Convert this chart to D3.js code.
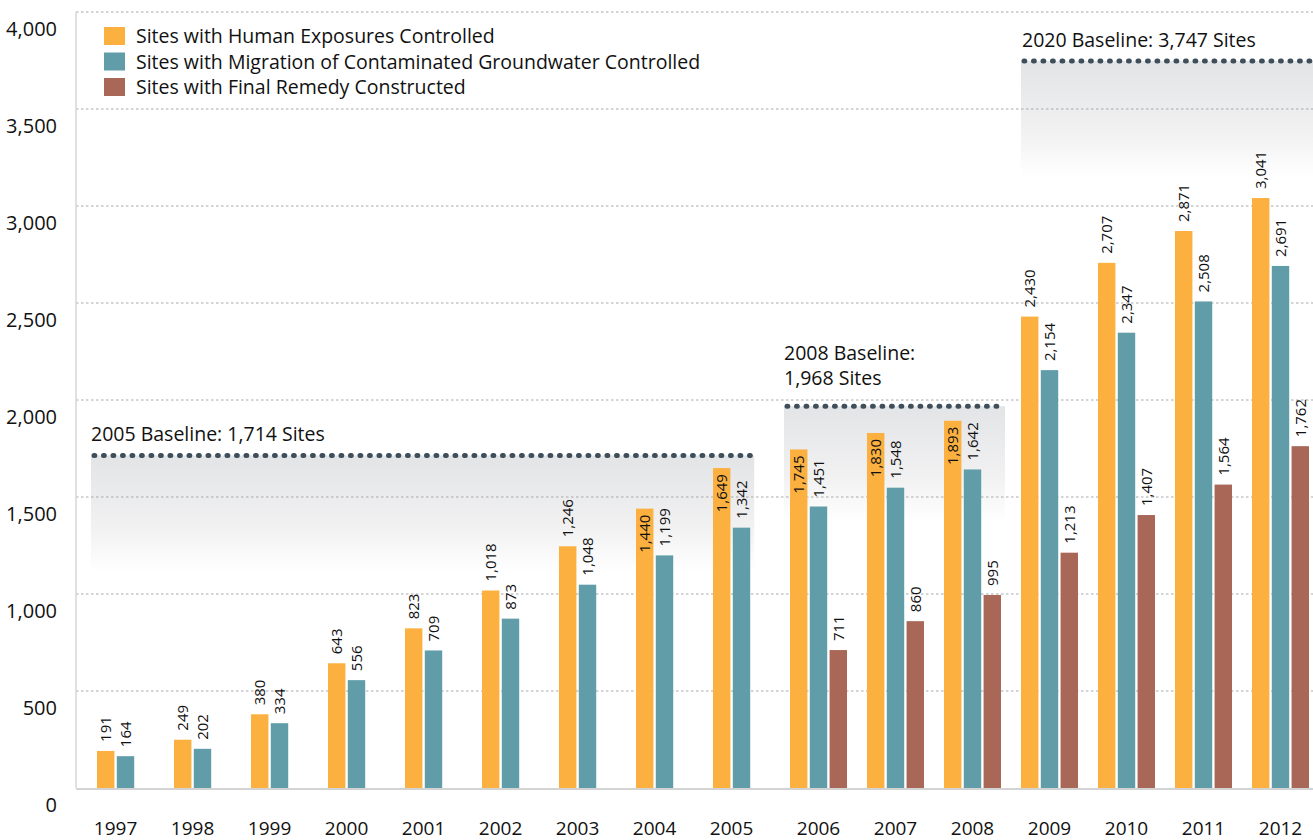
<!DOCTYPE html>
<html>
<head>
<meta charset="utf-8">
<script src="https://cdn.jsdelivr.net/npm/d3@7"></script>
<style>
  body { margin: 0; background: #fff; }
  svg { display: block; font-family: "Open Sans", sans-serif; }
</style>
</head>
<body>
<div id="main"></div>
<script>
const years = ["1997","1998","1999","2000","2001","2002","2003","2004","2005","2006","2007","2008","2009","2010","2011","2012"]
const human = [191,249,380,643,823,1018,1246,1440,1649,1745,1830,1893,2430,2707,2871,3041]
const groundwater = [164,202,334,556,709,873,1048,1199,1342,1451,1548,1642,2154,2347,2508,2691]
const remedy = [null,null,null,null,null,null,null,null,null,711,860,995,1213,1407,1564,1762]
const seriesNames = ["Sites with Human Exposures Controlled","Sites with Migration of Contaminated Groundwater Controlled","Sites with Final Remedy Constructed"]
const baselineLabels = [["2005 Baseline: 1,714 Sites"],["2008 Baseline:","1,968 Sites"],["2020 Baseline: 3,747 Sites"]]
const baselineValues = [1714,1968,3747]
const baselineFrom = ["1997","2006","2009"]
const baselineTo = ["2005","2008","2012"]
const yTicks = [0,500,1000,1500,2000,2500,3000,3500,4000]

const W = 1313, H = 840
const colors = ["#fbb040","#619da8","#a86757"]
const keys = ["h","g","r"]

const svg = d3.select("#main").append("svg").attr("width", W).attr("height", H)

const y = d3.scaleLinear().domain([0,4000]).range([788,12])
const x0 = d3.scaleBand().domain(years).range([87, 87 + 77*16]).paddingInner(0)
const x1 = d3.scaleBand().domain(keys).range([0,57]).paddingInner(0.12)
const groupOff = (x0.bandwidth() - 57) / 2

const rows = years.map((yr,i) => ({year: yr, vals: [human[i], groundwater[i], remedy[i]]}))
const fmt = d3.format(",")

// which baseline covers a year
function baseFor(yr) {
  for (let k = 0; k < baselineValues.length; k++) {
    if (+yr >= +baselineFrom[k] && +yr <= +baselineTo[k]) return baselineValues[k]
  }
  return null
}

// gradient for the baseline boxes
const defs = svg.append("defs")
const grad = defs.append("linearGradient").attr("id","fade").attr("x1",0).attr("y1",0).attr("x2",0).attr("y2",1)
grad.append("stop").attr("offset","0%").attr("stop-color","#e3e4e6")
grad.append("stop").attr("offset","60%").attr("stop-color","#f1f1f2")
grad.append("stop").attr("offset","100%").attr("stop-color","#ffffff")

function barX(yr, k) { return x0(yr) + groupOff + x1(keys[k]) }

const bases = baselineValues.map((v,k) => {
  const x_start = barX(baselineFrom[k], 0) - (k == 2 ? 0 : 6)
  const lastIdx = remedy[years.indexOf(baselineTo[k])] == null ? 1 : 2
  const x_end = k == 2 ? W : barX(baselineTo[k], lastIdx) + x1.bandwidth() + 4
  return {v: v, x0: x_start, x1: x_end, lines: baselineLabels[k]}
})

const boxG = svg.append("g")
boxG.selectAll("rect").data(bases).enter().append("rect")
  .attr("x", d => d.x0).attr("width", d => d.x1 - d.x0)
  .attr("y", d => y(d.v)).attr("height", 117)
  .attr("fill", "url(#fade)")

// grid
const gridG = svg.append("g")
gridG.selectAll("line").data(yTicks.filter(t => t > 0)).enter().append("line")
  .attr("x1", 76).attr("x2", W).attr("y1", d => y(d)).attr("y2", d => y(d))
  .attr("stroke", "#a7a9ac").attr("stroke-width", 1).attr("stroke-dasharray", "2.5,2.5")

svg.append("line").attr("x1",76).attr("x2",76).attr("y1",y(4000)).attr("y2",y(0))
  .attr("stroke","#d6d6d6").attr("stroke-width",1.5)
svg.append("line").attr("x1",76).attr("x2",W).attr("y1",y(0)+1).attr("y2",y(0)+1)
  .attr("stroke","#d3d3d3").attr("stroke-width",2)

// y tick labels (sit a bit below their gridline in the original)
svg.append("g").selectAll("text").data(yTicks).enter().append("text")
  .attr("x", 57).attr("y", d => y(d) + 24)
  .attr("text-anchor","end").attr("font-size",20).attr("fill","#111")
  .text(d => fmt(d))

// baseline dotted lines + labels
const baseG = svg.append("g")
baseG.selectAll("line").data(bases).enter().append("line")
  .attr("x1", d => d.x0 + 3).attr("x2", d => d.x1).attr("y1", d => y(d.v)).attr("y2", d => y(d.v))
  .attr("stroke","#3e4f5b").attr("stroke-width",5).attr("stroke-linecap","round")
  .attr("stroke-dasharray","0.8,8.7")
bases.forEach(d => {
  const n = d.lines.length
  d.lines.forEach((ln, j) => {
    baseG.append("text").attr("x", d.x0 + (d.x1 == W ? 1 : 0)).attr("y", y(d.v) - 14 - (n - 1) * 7 - (n - 1 - j) * 25)
      .attr("font-size",19.5).attr("fill","#111").text(ln)
  })
})

// bars
const barG = svg.append("g")
const groups = barG.selectAll("g").data(rows).enter().append("g")
  .attr("transform", d => `translate(${x0(d.year) + groupOff},0)`)
const bars = groups.selectAll("g").data(d => d.vals.map((v,k) => ({v: v, k: k, year: d.year})).filter(e => e.v != null))
  .enter().append("g")
bars.append("rect")
  .attr("x", d => x1(keys[d.k])).attr("width", x1.bandwidth())
  .attr("y", d => y(d.v)).attr("height", d => y(0) - y(d.v))
  .attr("fill", d => colors[d.k])
bars.append("text")
  .attr("transform", d => {
    const b = baseFor(d.year)
    const inside = b != null && d.v < b && b - d.v < 300
    const cx = x1(keys[d.k]) + x1.bandwidth() / 2
    return `translate(${cx},${inside ? y(d.v) + 6 : y(d.v) - 9}) rotate(-90)`
  })
  .attr("text-anchor", d => {
    const b = baseFor(d.year)
    return (b != null && d.v < b && b - d.v < 300) ? "end" : "start"
  })
  .attr("dy","0.36em")
  .attr("font-family","'Liberation Sans Narrow','Arial Narrow','Open Sans',sans-serif")
  .attr("font-size",15).attr("fill","#111")
  .text(d => fmt(d.v))

// year labels centred on the drawn bars
svg.append("g").selectAll("text").data(rows).enter().append("text")
  .attr("x", d => {
    const n = d.vals.filter(v => v != null).length
    return x0(d.year) + groupOff + (n * x1.step() - (x1.step() - x1.bandwidth())) / 2
  })
  .attr("y", 835).attr("text-anchor","middle").attr("font-size",19).attr("fill","#111")
  .text(d => d.year)

// legend
const leg = svg.append("g").attr("transform","translate(104,27)")
const li = leg.selectAll("g").data(seriesNames).enter().append("g")
  .attr("transform", (d,i) => `translate(0,${i * 25.5})`)
li.append("rect").attr("width",21).attr("height",18).attr("fill",(d,i) => colors[i])
li.append("text").attr("x",32).attr("y",16).attr("font-size",19.5).attr("fill","#111").text(d => d)
</script>
</body>
</html>
